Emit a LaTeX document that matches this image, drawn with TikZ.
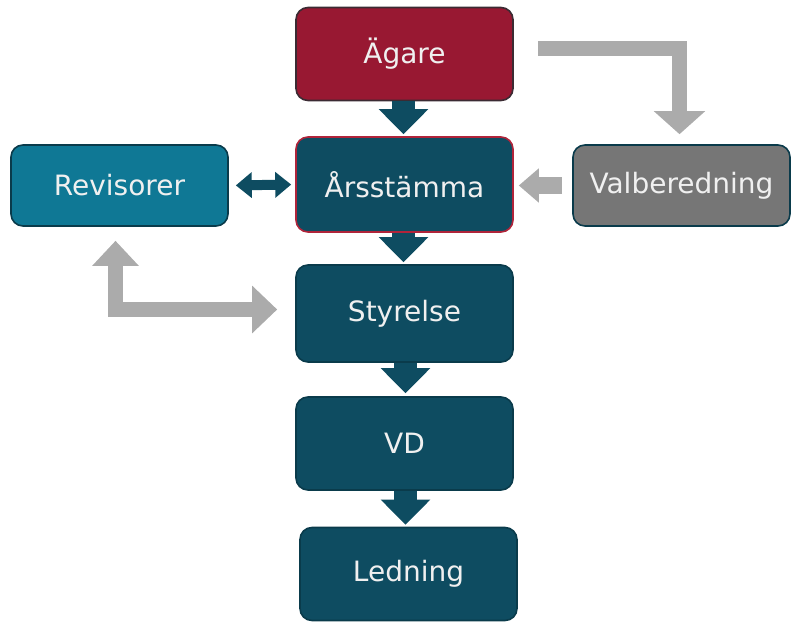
\documentclass[tikz,border=0pt]{standalone}
\usepackage{fontspec}
\setmainfont{DejaVu Sans}
\usetikzlibrary{arrows.meta}
\definecolor{agared}{HTML}{981832}
\definecolor{agaline}{HTML}{3B2B33}
\definecolor{darkteal}{HTML}{0E4C61}
\definecolor{tealline}{HTML}{0A3B4B}
\definecolor{revteal}{HTML}{0F7895}
\definecolor{valgrey}{HTML}{767676}
\definecolor{arsline}{HTML}{B0243A}
\definecolor{flowgrey}{HTML}{ABABAB}
\tikzset{
  every picture/.style={x=1pt,y=-1pt},
  orgbox/.style={draw=tealline, line width=1.6pt, fill=darkteal, rounded corners=12pt,
    minimum width=217pt, minimum height=93pt, text=white!94!black, font=\fontsize{28}{32}\selectfont},
  downflow/.style={darkteal, line width=23pt,
    -{Triangle[width=48pt,length=25pt]}},
  greyflow/.style={flowgrey, line width=15pt, line join=miter}
}
\begin{document}
\begin{tikzpicture}
  \useasboundingbox (0,0) rectangle (794,623);

  \node [orgbox, fill=agared, draw=agaline] (aga) at (404.5,54) {Ägare};
  \node [orgbox, draw=arsline, minimum height=95pt] (ars) at (404.5,184.5) {Årsstämma};
  \node [orgbox, fill=revteal, minimum height=81pt] (rev) at (119.5,185.5) {Revisorer};
  \node [orgbox, fill=valgrey, minimum height=81pt] (val) at (681.5,185.5) {Valberedning};
  \node [orgbox, minimum height=97pt] (sty) at (404.5,313.5) {Styrelse};
  \node [orgbox] (vd) at (404.5,443.5) {VD};
  \node [orgbox] (led) at (408.5,574) {Ledning};

  % downward chain
  \draw [downflow, shorten >=2pt] ([xshift=-1pt]aga.south) -- ([xshift=-1pt]ars.north);
  \draw [downflow, shorten >=2pt] ([xshift=-1pt]ars.south) -- ([xshift=-1pt]sty.north);
  \draw [downflow, shorten >=3pt] ([xshift=1pt]sty.south) -- ([xshift=1pt]vd.north);
  \draw [downflow, shorten >=2pt] ([xshift=1pt]vd.south) -- ([xshift=-3pt]led.north);

  % Revisorer <-> Årsstämma
  \draw [darkteal, line width=10pt, {Triangle[width=25pt,length=16pt]}-{Triangle[width=25pt,length=16pt]},
    shorten <=7pt, shorten >=4pt] (rev.east) -- (ars.west);

  % grey flows
  \draw [greyflow, -{Triangle[width=50pt,length=23pt]}, shorten >=10pt]
    ([xshift=24pt,yshift=5.5pt]aga.east) -| ([xshift=-2pt]val.north);
  \draw [greyflow, line width=17pt, -{Triangle[width=33pt,length=20pt]}, shorten <=10pt, shorten >=5pt]
    (val.west) -- (val.west -| ars.east);
  \draw [greyflow, {Triangle[width=45pt,length=25pt]}-{Triangle[width=46pt,length=25pt]},
    shorten <=14pt, shorten >=18pt] ([xshift=-4pt]rev.south) |- ([yshift=4pt]sty.west);

\end{tikzpicture}
\end{document}
